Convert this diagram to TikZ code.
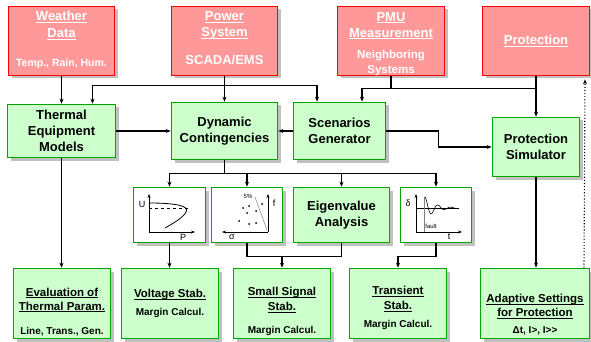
\documentclass[tikz,border=0pt]{standalone}
\usepackage{fontspec}
\setmainfont{Liberation Sans}
\usetikzlibrary{positioning, arrows.meta, shadows, calc}

\definecolor{boxred}{RGB}{255,0,0}
\definecolor{srcfill}{RGB}{255,153,153}
\definecolor{boxgreen}{RGB}{0,165,0}
\definecolor{procfill}{RGB}{204,255,204}
\definecolor{shadowgray}{RGB}{192,192,192}

\newcommand{\ulin}[1]{\setbox0\hbox{#1}\rlap{\rule[-1.8pt]{\wd0}{0.7pt}}\box0}
\newcommand{\tstrut}[1]{\rule{0pt}{#1}}
\newcommand{\bstrut}[1]{\rule[-#1]{0pt}{#1}}
\newcommand{\fbig}{\fontsize{13}{16}\selectfont}
\newcommand{\fmid}{\fontsize{11.5}{14}\selectfont}
\newcommand{\fsml}{\fontsize{10}{12}\selectfont}

\begin{document}
\begin{tikzpicture}[
      x=1pt, y=-1pt,
      src/.style={
          draw=boxred, fill=srcfill, line width=1.6pt,
          text=white, align=center, font=\fbig\bfseries,
          minimum width=106pt, minimum height=69pt, inner sep=0pt,
          drop shadow={shadow xshift=3pt, shadow yshift=-3pt,
              fill=shadowgray, opacity=1}
        },
      proc/.style={
          draw=boxgreen, fill=procfill, line width=1.6pt,
          align=center, font=\fbig\bfseries, inner sep=0pt,
          drop shadow={shadow xshift=3pt, shadow yshift=-3pt,
              fill=shadowgray, opacity=1}
        },
      result/.style={proc, font=\fmid\bfseries,
          minimum width=97pt, minimum height=70pt},
      plotbox/.style={proc, fill=white,
          minimum width=71pt, minimum height=55pt},
      conn/.style={-{Stealth[length=5pt, width=4pt]}, line width=1.1pt},
      link/.style={line width=1.1pt},
      axis/.style={-{Stealth[length=4pt, width=3pt]}, line width=0.8pt},
      lbl/.style={inner sep=0pt, font=\fontsize{9}{10}\selectfont}
    ]

    \useasboundingbox (0,0) rectangle (591,342);

    % -- Data sources (top row) --
    \node[src] (wea) at (61.5,41)
      {\ulin{Weather}\\[1pt]\ulin{Data}\\[13pt]{\fontsize{10.5}{12.6}\selectfont Temp., Rain, Hum.\bstrut{4pt}}};
    \node[src] (pow) at (224.5,41)
      {\ulin{Power}\\\ulin{System}\\[12pt]SCADA/EMS\bstrut{5pt}};
    \node[src, minimum width=107pt] (pmu) at (391,41)
      {\tstrut{14.5pt}\ulin{PMU}\\\ulin{Measurement}\\[5pt]{\fontsize{11.5}{14}\selectfont Neighboring}\\[-1pt]{\fontsize{11.5}{14}\selectfont Systems}};
    \node[src, minimum width=107pt] (prot) at (536,41) {\ulin{Protection}};

    % -- Processing blocks (second row) --
    \node[proc, minimum width=108pt, minimum height=53pt] (therm) at (61.5,131)
      {Thermal\\Equipment\\Models};
    \node[proc, minimum width=106pt, minimum height=57pt] (dyn) at (224.5,131)
      {Dynamic\\Contingencies};
    \node[proc, minimum width=92pt, minimum height=57pt] (scen) at (339.5,131)
      {Scenarios\\Generator};
    \node[proc, minimum width=87pt, minimum height=59pt] (psim) at (536,147)
      {Protection\\Simulator};

    % -- Analysis blocks (third row) --
    \node[plotbox, minimum width=72pt] (vplot) at (169.5,215) {};
    \node[plotbox] (splot) at (247,215) {};
    \node[proc, minimum width=96pt, minimum height=55pt] (eig) at (341.5,215)
      {Eigenvalue\\Analysis};
    \node[plotbox] (tplot) at (436,215) {};

    % -- Results (bottom row) --
    \node[result] (eval) at (62,303.5)
      {\tstrut{25pt}\ulin{Evaluation of}\\\ulin{Thermal Param.}\\[10pt]\fsml Line, Trans., Gen.};
    \node[result] (volt) at (170,303.5)
      {\ulin{Voltage Stab.}\\[4pt]\fsml Margin Calcul.};
    \node[result] (small) at (282,303.5)
      {\tstrut{25pt}\ulin{Small Signal}\\[1pt]\ulin{Stab.}\\[9pt]\fsml Margin Calcul.};
    \node[result] (trans) at (398,303.5)
      {\tstrut{18pt}\ulin{Transient}\\[1pt]\ulin{Stab.}\\[4pt]\fsml Margin Calcul.};
    \node[result, minimum width=109pt] (adapt) at (535,303.5)
      {\tstrut{31pt}\ulin{Adaptive Settings}\\\ulin{for Protection}\\[2.5pt]\fsml Δt, I>, I>\kern0pt>};

    % -- Connectors from the sources --
    \draw[conn] (wea.south) -- (therm.north);
    \draw[conn] (pow.south) -- (dyn.north);
    \draw[conn] ([yshift=-9pt]pow.south) -| ([xshift=31pt]therm.north);
    \draw[conn] ([yshift=-9pt]pow.south) -| ([xshift=-22.5pt]scen.north);
    \draw[conn] (pmu.south) -- ++(0,12) -| ([xshift=22.5pt]scen.north);
    \draw[link] ([yshift=-12pt]pmu.south) -| ([yshift=-12pt]prot.south);
    \draw[conn] (prot.south) -- (psim.north);
    \draw[conn, dotted] ([xshift=49pt]adapt.north) -- ([xshift=49pt, yshift=-3pt]prot.south);

    % -- Connectors between the blocks --
    \draw[conn] (therm.east) -- (dyn.west);
    \draw[conn] (scen.west) -- (dyn.east);
    \draw[conn] (scen.east) -- ++(52,0) |- (psim.west);
    \draw[conn] (therm.south) -- (therm.south |- eval.north);
    \draw[conn] (psim.south) -- (psim.south |- adapt.north);
    \draw[conn] (dyn.south) -- ++(0,13) -| (vplot.north);
    \draw[conn] ([yshift=-13pt]dyn.south) -| (splot.north);
    \draw[conn] ([yshift=-13pt]dyn.south) -| (eig.north);
    \draw[conn] ([yshift=-13pt]dyn.south) -| (tplot.north);
    \draw[conn] (vplot.south) -- (vplot.south |- volt.north);
    \draw[link] (splot.south) -- ++(0,13) -| (eig.south);
    \draw[conn] ([yshift=12pt]small.north) -- (small.north);
    \draw[conn] (tplot.south) -- ++(0,13) -| (trans.north);

    % -- Voltage stability sketch (P-U curve) --
    \draw[axis] (149,232) -- (149,194);
    \draw[axis] (149,232) -- (195,232);
    \draw[line width=0.8pt] (149,203) .. controls (176,203) and (190,206) .. (186,212)
      .. controls (183,218) and (172,224) .. (165,228);
    \draw[dashed, line width=0.8pt] (149,208) -- (191,208);
    \node[lbl] (ulab) at (142,204) {U};
    \node[lbl] (plab) at (183,237) {P};

    % -- Small signal sketch (damping plane) --
    \draw[axis] (268,232) -- (268,194);
    \draw[axis] (268,232) -- (222,232);
    \draw[gray, line width=0.5pt] (255,197) -- (267,230);
    \foreach \px/\py in {243/208, 249/206, 262/204, 247/213, 256/211,
                         239/221, 249/224, 256/223}
      \fill (\px,\py) circle (1pt);
    \node[lbl] (flab) at (274,203) {f};
    \node[lbl] (slab) at (232,237) {σ};
    \node[lbl, font=\fontsize{6}{7}\selectfont] (pct) at (248,196) {5\%};

    % -- Transient sketch (rotor angle swing) --
    \draw[axis] (416,232) -- (416,194);
    \draw[axis] (416,232) -- (462,232);
    \draw[line width=0.5pt] (416,208) -- (459,208);
    \draw[gray, line width=0.5pt] (424,197) -- (424,232);
    \draw[line width=0.6pt] plot[domain=0:34, samples=80, smooth]
      ({425+\x}, {208-11*exp(-\x/10)*cos(\x*360/13)});
    \node[lbl] (dlab) at (408,203) {δ};
    \node[lbl] (tlab) at (449,237) {t};
    \node[lbl, font=\fontsize{6}{7}\selectfont] (flt) at (431,226) {fault};

  \end{tikzpicture}
\end{document}
